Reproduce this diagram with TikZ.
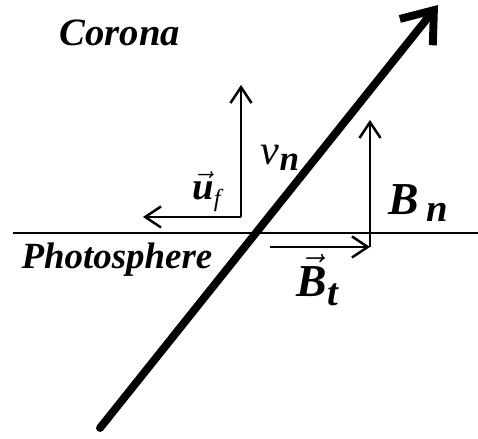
\documentclass[tikz,border=0pt]{standalone}
\usepackage{fontspec}
\setmainfont{Liberation Serif}
\usetikzlibrary{arrows.meta}
\newcommand{\bitxt}[1]{\textbf{\textit{#1}}}

\begin{document}
\begin{tikzpicture}[x=0.02cm, y=-0.02cm]
    \useasboundingbox (0,0) rectangle (478,439);

    % Layer names
    \node (corona) at (120,33) {\fontsize{22}{26}\selectfont\bitxt{Corona}};
    \node (photo) at (117,260) {\fontsize{21}{25}\selectfont\bitxt{Photosphere}};

    % Photosphere surface
    \coordinate (surfL) at (13,233);
    \coordinate (surfR) at (478,233);
    \draw[line width=1.4pt] (surfL) -- (surfR);

    % Flux tube (thick arrow)
    \coordinate (tail) at (100,428);
    \coordinate (head) at (438,5);
    \draw[line width=4.5pt, line cap=round, -{Straight Barb[length=16pt, width=24pt]}] (tail) -- (head);

    % Velocity components
    \coordinate (vbase) at (241,217);
    \coordinate (vtop) at (241,85);
    \coordinate (uend) at (143,217);
    \draw[line width=1.4pt, -{Straight Barb[length=9pt, width=12pt]}] (vbase) -- (vtop);
    \draw[line width=1.4pt, -{Straight Barb[length=9pt, width=12pt]}] (vbase) -- (uend);
    \node (vn) at (280,158) {\fontsize{24}{28}\selectfont\textit{v}\raisebox{-0.3ex}{\fontsize{20}{24}\selectfont\bitxt{n}}};
    \node (uf) at (208,192) {\fontsize{22}{26}\selectfont$\vec{\mbox{\bitxt{u}}}$\raisebox{-0.4ex}{\fontsize{14}{16}\selectfont\textit{f}}};

    % Field components
    \coordinate (bbase) at (370,247);
    \coordinate (btop) at (370,120);
    \coordinate (tstart) at (270,247);
    \draw[line width=1.4pt, -{Straight Barb[length=9pt, width=12pt]}] (bbase) -- (btop);
    \draw[line width=1.4pt, -{Straight Barb[length=9pt, width=12pt]}] (tstart) -- (bbase);
    \node (bn) at (418,203) {\fontsize{26}{30}\selectfont\bitxt{B}\,\raisebox{-0.3ex}{\fontsize{22}{26}\selectfont\bitxt{n}}};
    \node (bt) at (318,280) {\fontsize{26}{30}\selectfont$\vec{\mbox{\bitxt{B}}}$\raisebox{-0.4ex}{\fontsize{22}{26}\selectfont\bitxt{t}}};

\end{tikzpicture}
\end{document}
